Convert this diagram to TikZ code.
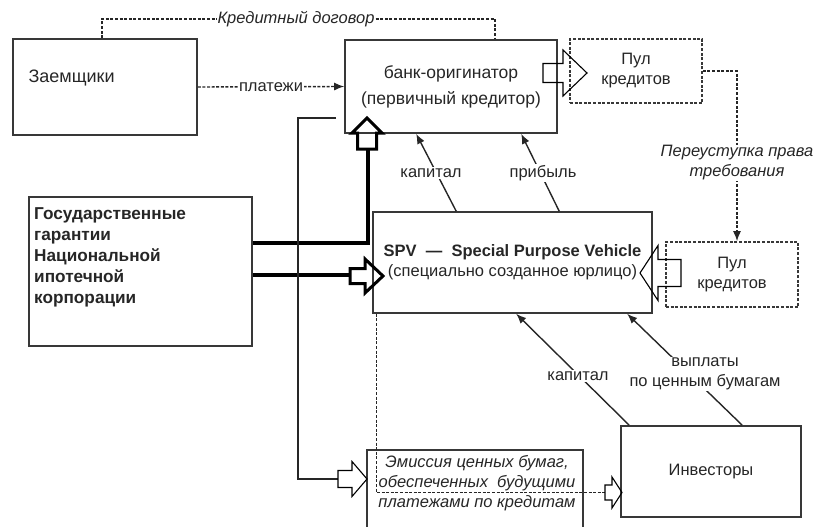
\documentclass[tikz,border=0pt]{standalone}
\usepackage{fontspec}
\setmainfont{Liberation Sans}
\usetikzlibrary{arrows.meta,calc}

% полая стрелка: [опции]{острие}{поворот}{длина}{длина головки}{полуширина стержня}{полуширина головки}
\newcommand{\blockarrow}[7][]{%
  \draw[black,line width=1.1pt,#1,shift={(#2)},rotate=#3]
    (0,0) -- (-#5,#7) -- (-#5,#6) -- (-#4,#6) -- (-#4,-#6) -- (-#5,-#6) -- (-#5,-#7) -- cycle;}

\begin{document}
\begin{tikzpicture}[x=1pt,y=-1pt,line join=miter,
  every node/.style={font=\fontsize{16.5}{20}\selectfont,text=black!85},
  kursiv/.style={font=\fontsize{16.5}{20}\selectfont\itshape},
  box/.style={draw=black!78,line width=1.6pt,inner sep=0pt,align=center},
  pulbox/.style={box,dash pattern=on 3pt off 1.6pt},
  flow/.style={black!85,line width=1.4pt,-{Latex[length=10pt,width=8pt]}},
  dline/.style={black!85,line width=1.4pt,dash pattern=on 3pt off 1.6pt},
  lbl/.style={fill=white,inner sep=1pt,align=center},
  fat/.style={black,line width=4pt}]
  \useasboundingbox (0,0) rectangle (816,527);

  % блоки
  \node[box,minimum width=184,minimum height=96] (zaem) at (105,87) {};
  \node[anchor=west,font=\fontsize{18}{20}\selectfont] (zaemtxt) at (25,78) {Заемщики};
  \node[box,minimum width=212,minimum height=93,font=\fontsize{17.5}{26}\selectfont] (bank) at (451,86.5) {банк-оригинатор\\(первичный кредитор)};
  \node[pulbox,minimum width=132,minimum height=64] (pul1) at (636,71) {Пул\\кредитов};
  \node[box,minimum width=223,minimum height=149] (gov) at (140.5,271.5) {};
  \node[anchor=north west,align=left,inner sep=0pt,font=\fontsize{17.2}{21}\selectfont\bfseries] (govtxt) at (34,207) {Государственные\\гарантии\\Национальной\\ипотечной\\корпорации};
  \node[box,minimum width=279,minimum height=101] (spv) at (512.5,262.5) {\textbf{SPV\ \ —\ \ Special Purpose Vehicle}\\(специально созданное юрлицо)};
  \node[pulbox,minimum width=132,minimum height=65] (pul2) at (732,274.5) {Пул\\кредитов};
  \node[box,minimum width=180,minimum height=91] (inv) at (711,471.5) {Инвесторы};
  % эмиссия: рамка без нижней стороны
  \draw[black!78,line width=1.6pt] (367,527) -- (367,450) -- (583,450) -- (583,527);
  \node[kursiv,align=center] (emis) at (477,483) {Эмиссия ценных бумаг,\\обеспеченных\ \ будущими\\платежами по кредитам};

  % кредитный договор
  \node[lbl,kursiv] (dog) at (296,19) {Кредитный договор};
  \coordinate (d1) at (102,19);
  \coordinate (d2) at (495,19);
  \draw[dline] (d1 |- zaem.north) -- (d1) -- (dog.west);
  \draw[dline] (dog.east) -- (d2) -- (d2 |- bank.north);

  % платежи
  \draw[dline,-{Latex[length=10pt,width=8pt]}] (zaem.east) -- node[lbl] (plat) {платежи} (bank.west);

  % переуступка права требования
  \coordinate (p1) at (737,71);
  \draw[dline,-{Latex[length=10pt,width=8pt]}] (pul1.east) -- (p1) -- node[lbl,kursiv,pos=.54] (pereu) {Переуступка права\\требования} (p1 |- pul2.north);

  % SPV -> банк
  \draw[flow] ($(spv.north west)+(84,0)$) -- ($(bank.south west)+(72,0)$);
  \draw[flow] ($(spv.north west)+(187,0)$) -- ($(bank.south west)+(177,0)$);
  \node[lbl] (kap1) at (431,173) {капитал};
  \node[lbl] (prib) at (543,173) {прибыль};

  % инвесторы -> SPV
  \draw[flow] ($(inv.north west)+(9,0)$) -- ($(spv.south west)+(144,0)$);
  \draw[flow] ($(inv.north west)+(122,0)$) -- ($(spv.south west)+(255,0)$);
  \node[lbl] (kap2) at (578,376) {капитал};
  \node[lbl] (vypl) at (705,374) {выплаты\\по ценным бумагам};

  % гарантии
  \coordinate (g1) at (368,243);
  \coordinate (g2) at (350,275);
  \coordinate (g3) at (368,149);
  \draw[fat] (g1 -| gov.east) -- (g1) -- (g3);
  \draw[fat] (g2 -| gov.east) -- (g2);
  \coordinate (t3) at (367,118);
  \blockarrow[line width=3pt]{t3}{90}{31}{15}{9.5}{15}
  \coordinate (t4) at (383,276);
  \blockarrow[line width=3pt]{t4}{0}{33}{18}{7.5}{17}

  % линия к эмиссии
  \coordinate (l1) at (298,118);
  \coordinate (t5) at (367,479);
  \draw[black!85,line width=1.3pt] ($(l1 -| bank.west)+(-8,0)$) -- (l1) -- (l1 |- t5) -- ($(t5)+(-29,0)$);
  \blockarrow{t5}{0}{29}{15}{8.5}{17.5}

  % пунктир SPV -> инвесторы
  \coordinate (s0) at ($(spv.south west)+(4,0)$);
  \coordinate (t6) at (622,492.5);
  \draw[dline] (s0) -- (s0 |- t6) -- ($(t6)+(-17,0)$);
  \blockarrow{t6}{0}{17}{10}{7.5}{15.5}

  % банк -> пул, пул -> SPV
  \coordinate (t1) at (587,73);
  \blockarrow{t1}{0}{44}{24}{9.5}{23}
  \coordinate (t2) at (640,273);
  \blockarrow{t2}{180}{41}{18}{13.5}{27.5}
\end{tikzpicture}
\end{document}
